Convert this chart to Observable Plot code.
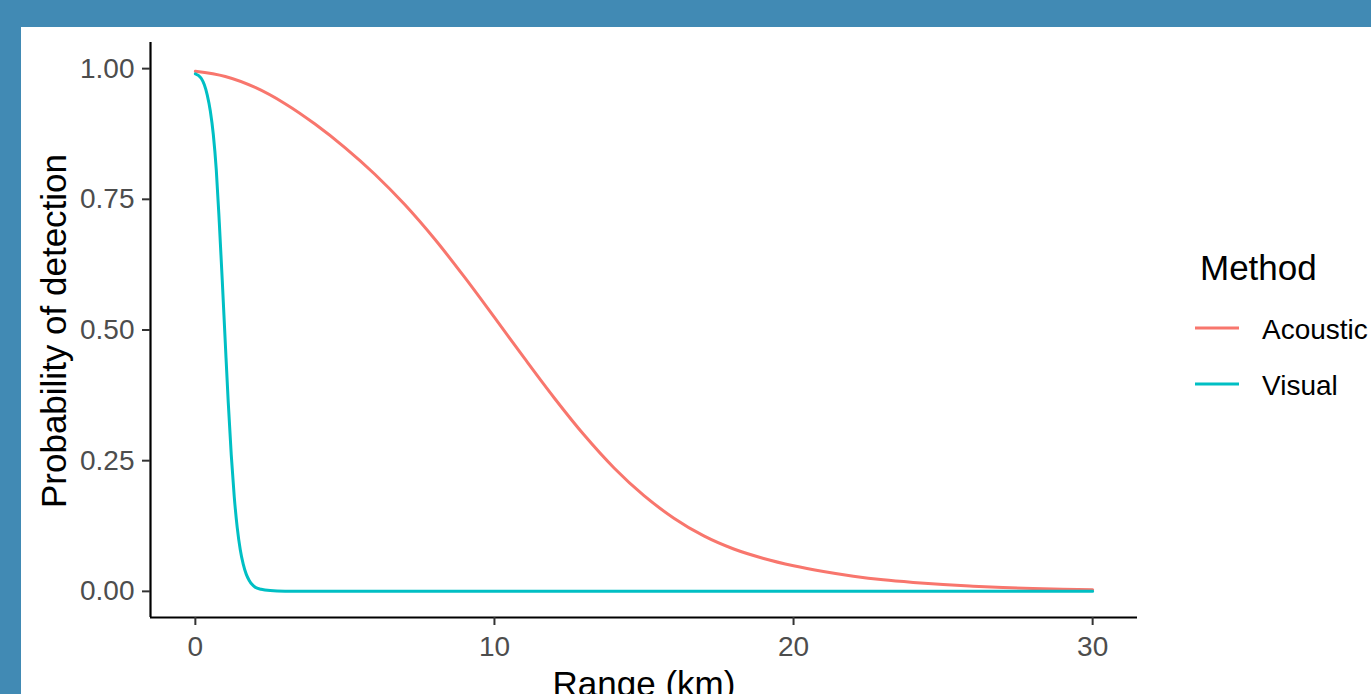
<!DOCTYPE html>
<html><head><meta charset="utf-8">
<script src="https://cdn.jsdelivr.net/npm/d3@7"></script>
<script src="https://cdn.jsdelivr.net/npm/@observablehq/plot@0.6"></script>
<style>
html,body{margin:0;padding:0;overflow:hidden;background:#418ab4;width:1371px;height:694px;}
#panel{position:absolute;left:21px;top:27px;width:1350px;height:667px;background:#fff;overflow:hidden;}
#chart{position:absolute;left:0;top:0;}
#legend{position:absolute;left:0;top:0;overflow:visible;}
</style></head><body>
<div id="panel"><div id="chart"></div><svg id="legend" width="1350" height="667"></svg></div>
<script>
// ---- data ----
const methods = ["Acoustic", "Visual"];
const methodColors = ["#F8766D", "#00BFC4"];

const acousticRange = [0,1,2,3,4,5,6,7,8,9,10,11,12,13,14,15,16,17,18,19,20,21,22,23,24,25,26,27,28,29,30];
const acousticProb  = [0.995,0.985,0.964,0.933,0.894,0.849,0.798,0.740,0.674,0.601,0.524,0.446,0.370,0.299,0.236,0.183,0.140,0.106,0.081,0.063,0.049,0.038,0.029,0.022,0.017,0.013,0.010,0.0075,0.0055,0.004,0.003];

const visualRange = [0,0.1,0.2,0.3,0.4,0.5,0.6,0.7,0.8,0.9,1.0,1.1,1.2,1.3,1.4,1.5,1.6,1.7,1.8,1.9,2.0,2.2,2.5,3,4,10,20,30];
const visualProb  = [0.99,0.987,0.981,0.969,0.949,0.919,0.874,0.806,0.706,0.594,0.476,0.361,0.261,0.181,0.122,0.080,0.052,0.033,0.021,0.013,0.008,0.004,0.0015,0.0003,0,0,0,0];

const xTicks = [0, 10, 20, 30];
const yTicks = [0, 0.25, 0.5, 0.75, 1];
const xTitle = "Range (km)";
const yTitle = "Probability of detection";
const legendTitle = "Method";

// ---- build table ----
const rows = [
  ...acousticRange.map((r, i) => ({method: methods[0], range: r, p: acousticProb[i]})),
  ...visualRange.map((r, i) => ({method: methods[1], range: r, p: visualProb[i]}))
];

const font = "'Liberation Sans', Arial, Helvetica, sans-serif";

const plot = Plot.plot({
  width: 1350, height: 700,
  marginLeft: 129, marginRight: 234, marginTop: 15, marginBottom: 110,
  style: {fontFamily: font, background: "white", overflow: "visible"},
  x: {domain: [-1.5, 31.5]},
  y: {domain: [-0.05, 1.05]},
  color: {domain: methods, range: methodColors},
  marks: [
    Plot.line(rows, {x: "range", y: "p", stroke: "method", z: "method", strokeWidth: 3, curve: "monotone-x"}),
    Plot.ruleY([-0.05], {stroke: "black", strokeWidth: 2.2}),
    Plot.ruleX([-1.5], {stroke: "black", strokeWidth: 2.2}),
    Plot.axisX(xTicks, {tickSize: 8, tickPadding: 11, fontSize: 28, fill: "#4d4d4d", stroke: "#333333", strokeWidth: 2, label: null}),
    Plot.axisY(yTicks, {tickSize: 8, tickPadding: 8, fontSize: 28, fill: "#4d4d4d", stroke: "#333333", strokeWidth: 2, label: null, tickFormat: d => d.toFixed(2)}),
    Plot.text([yTitle], {frameAnchor: "left", dx: -85, dy: 1, rotate: -90, textAnchor: "middle", lineAnchor: "bottom", fontSize: 35, fill: "black"}),
    Plot.text([xTitle], {frameAnchor: "bottom", dy: 78, textAnchor: "middle", lineAnchor: "bottom", fontSize: 35, fill: "black"})
  ]
});
document.getElementById("chart").appendChild(plot);

// ---- legend (to the right of the panel) ----
const color = plot.scale("color");
const leg = d3.select("#legend").style("font-family", font);
leg.append("text").attr("x", 1179).attr("y", 253).attr("font-size", 35).attr("fill", "black").text(legendTitle);
color.domain.forEach((m, i) => {
  const y = 301 + i * 56;
  leg.append("line").attr("x1", 1174).attr("x2", 1218).attr("y1", y).attr("y2", y)
    .attr("stroke", color.range[i]).attr("stroke-width", 3);
  leg.append("text").attr("x", 1241).attr("y", y + 11).attr("font-size", 28).attr("fill", "black").text(m);
});
</script>
</body></html>
